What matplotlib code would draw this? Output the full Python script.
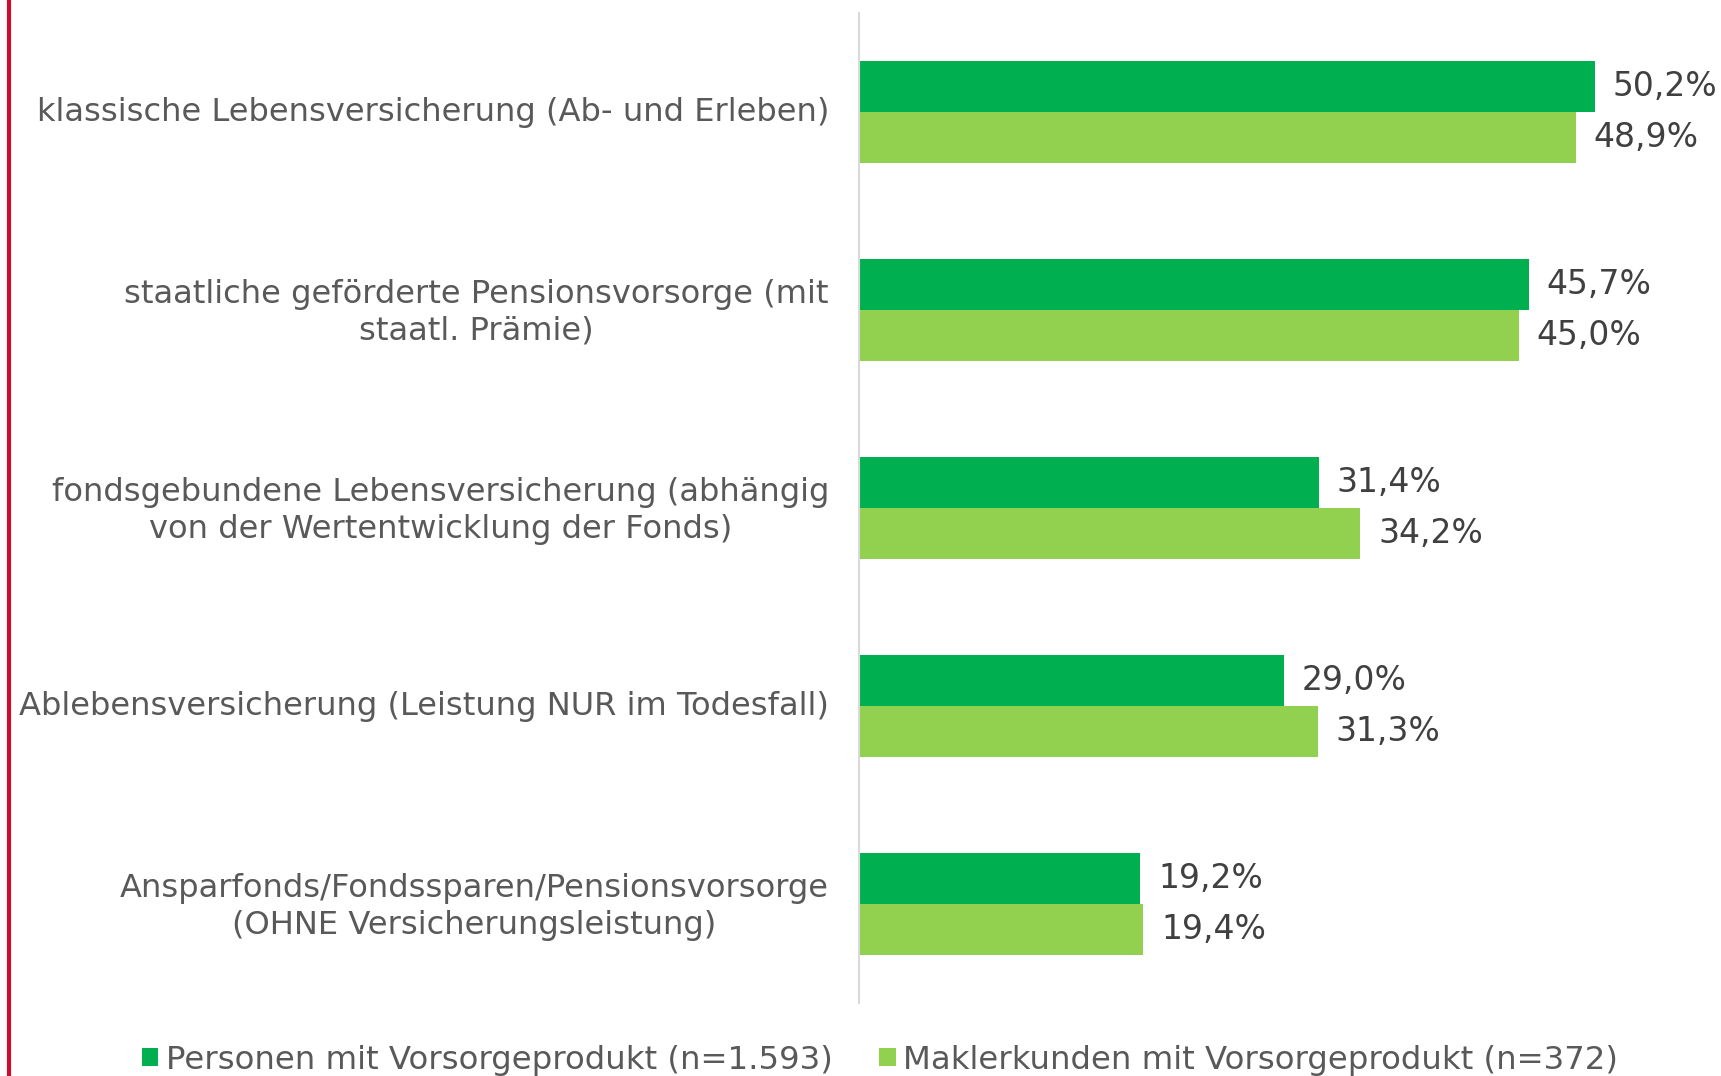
import matplotlib
matplotlib.use("Agg")
import matplotlib.pyplot as plt
import matplotlib.transforms as mtransforms
import numpy as np

categories = [
    "klassische Lebensversicherung (Ab- und Erleben)",
    "staatliche geförderte Pensionsvorsorge (mit\nstaatl. Prämie)",
    "fondsgebundene Lebensversicherung (abhängig\nvon der Wertentwicklung der Fonds)",
    "Ablebensversicherung (Leistung NUR im Todesfall)",
    "Ansparfonds/Fondssparen/Pensionsvorsorge\n(OHNE Versicherungsleistung)",
]
personen = [50.2, 45.7, 31.4, 29.0, 19.2]
makler = [48.9, 45.0, 34.2, 31.3, 19.4]
series_names = ["Personen mit Vorsorgeprodukt (n=1.593)", "Maklerkunden mit Vorsorgeprodukt (n=372)"]
colors = ["#00AF4F", "#92D050"]

plt.rcParams['font.family'] = ['DejaVu Sans']
W, H = 1721, 1076
fig = plt.figure(figsize=(W/100, H/100), dpi=100)
ax_left = 859 / W
ax_bottom = 1 - 1003 / H
ax_top = 1 - 13 / H
ax = fig.add_axes([ax_left, ax_bottom, 1 - ax_left, ax_top - ax_bottom])

n = len(categories)
y = np.arange(n)
h = 0.26
b1 = ax.barh(y - h/2, personen, height=h, color=colors[0], label=series_names[0])
b2 = ax.barh(y + h/2, makler, height=h, color=colors[1], label=series_names[1])
ax.set_ylim(n - 0.5, -0.5)
ax.set_xlim(0, 58.8)

for bars, vals in ((b1, personen), (b2, makler)):
    for rect, v in zip(bars, vals):
        ax.text(rect.get_width() + 1.2, rect.get_y() + rect.get_height()/2,
                f"{v:.1f}%".replace(".", ","), va="center", ha="left",
                fontsize=23.8, color="#404040")

ax.set_yticks(y)
ax.set_yticklabels(categories, fontsize=23.1, color="#595959", multialignment="center",
                   linespacing=1.23)
ax.tick_params(axis="y", length=0, pad=21.6)
shift = mtransforms.ScaledTranslation(0, 3.3/100, fig.dpi_scale_trans)
for lab in ax.get_yticklabels():
    lab.set_transform(lab.get_transform() + shift)
ax.set_xticks([])
for s in ["top", "right", "bottom"]:
    ax.spines[s].set_visible(False)
ax.spines["left"].set_color("#D9D9D9")
ax.spines["left"].set_linewidth(1.5)

# red vertical line at left edge
fig.add_artist(plt.Line2D([9/W, 9/W], [0, 1], color="#C8102E", linewidth=3, transform=fig.transFigure))

leg = fig.legend(handles=[b1, b2], labels=series_names, loc="center",
                 bbox_to_anchor=(880/W, 1 - 1060/H), ncol=2, frameon=False,
                 fontsize=23.3, handlelength=0.5, handleheight=0.5, handletextpad=0.24,
                 columnspacing=1.45, labelcolor="#595959")

fig.savefig("out.png", dpi=100)
